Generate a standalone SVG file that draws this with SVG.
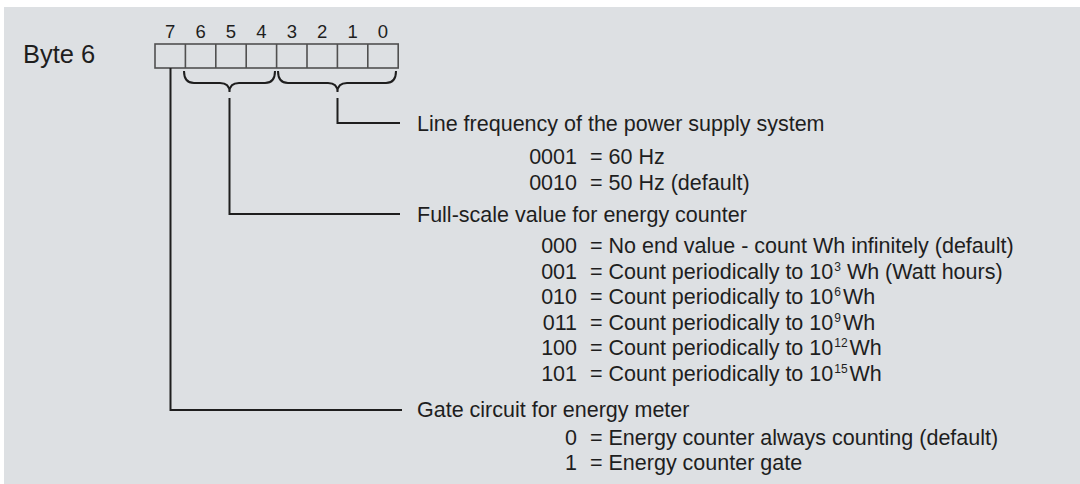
<svg xmlns="http://www.w3.org/2000/svg" width="1080" height="484" viewBox="0 0 1080 484">
  <style>
    text { font-family: "Liberation Sans", Arial, sans-serif; fill: #1e1e1e; }
    .t { font-size: 21.5px; }
    .code { font-size: 21.5px; text-anchor: end; }
    .bitnum { font-size: 18.5px; text-anchor: middle; }
    .cell { fill: none; stroke: #505050; stroke-width: 1.6; }
    .conn { fill: none; stroke: #1e1e1e; stroke-width: 2; }
    .sup { font-size: 12px; }
  </style>
  <rect x="0" y="0" width="1080" height="484" fill="#ffffff"/>
  <rect x="4" y="7" width="1076" height="477" fill="#dde0e3"/>

  <g id="byte-label">
    <text x="23" y="63" style="font-size:25.5px">Byte 6</text>
  </g>

  <g id="bit-register">
    <text class="bitnum" x="170.2" y="38">7</text>
    <text class="bitnum" x="200.6" y="38">6</text>
    <text class="bitnum" x="231" y="38">5</text>
    <text class="bitnum" x="261.4" y="38">4</text>
    <text class="bitnum" x="291.8" y="38">3</text>
    <text class="bitnum" x="322.2" y="38">2</text>
    <text class="bitnum" x="352.6" y="38">1</text>
    <text class="bitnum" x="383" y="38">0</text>
    <rect class="cell" x="155" y="44" width="243.2" height="24"/>
    <path class="cell" d="M185.4,44V68M215.8,44V68M246.2,44V68M276.6,44V68M307,44V68M337.4,44V68M367.8,44V68"/>
  </g>

  <g id="connectors">
    <path class="conn" d="M184,71 Q184,83 194,83 L220,83 Q229.5,83 229.5,92 Q229.5,83 239,83 L265,83 Q275,83 275,71"/>
    <path class="conn" d="M278,71 Q278,83 288,83 L328,83 Q337.5,83 337.5,92 Q337.5,83 347,83 L386,83 Q396,83 396,71"/>
    <path class="conn" d="M337.5,98 V123 H400"/>
    <path class="conn" d="M229.5,98 V214 H400"/>
    <path class="conn" d="M170.5,68 V410 H402"/>
  </g>

  <g id="line-frequency">
    <text class="t" x="417" y="131">Line frequency of the power supply system</text>
    <text class="code" x="577" y="164">0001</text>
    <text class="t" x="590" y="164">= 60 Hz</text>
    <text class="code" x="577" y="190">0010</text>
    <text class="t" x="590" y="190">= 50 Hz (default)</text>
  </g>

  <g id="full-scale">
    <text class="t" x="417" y="222">Full-scale value for energy counter</text>
    <text class="code" x="577" y="253">000</text>
    <text class="t" x="590" y="253">= No end value - count Wh infinitely (default)</text>
    <text class="code" x="577" y="278.5">001</text>
    <text class="t" x="590" y="278.5">= Count periodically to 10<tspan class="sup" dx="1" dy="-8">3</tspan><tspan dy="8"> Wh (Watt hours)</tspan></text>
    <text class="code" x="577" y="304">010</text>
    <text class="t" x="590" y="304">= Count periodically to 10<tspan class="sup" dx="1" dy="-8">6</tspan><tspan dx="2" dy="8">Wh</tspan></text>
    <text class="code" x="577" y="329.5">011</text>
    <text class="t" x="590" y="329.5">= Count periodically to 10<tspan class="sup" dx="1" dy="-8">9</tspan><tspan dx="2" dy="8">Wh</tspan></text>
    <text class="code" x="577" y="355">100</text>
    <text class="t" x="590" y="355">= Count periodically to 10<tspan class="sup" dx="1" dy="-8">12</tspan><tspan dx="2" dy="8">Wh</tspan></text>
    <text class="code" x="577" y="380.5">101</text>
    <text class="t" x="590" y="380.5">= Count periodically to 10<tspan class="sup" dx="1" dy="-8">15</tspan><tspan dx="2" dy="8">Wh</tspan></text>
  </g>

  <g id="gate-circuit">
    <text class="t" x="417" y="417">Gate circuit for energy meter</text>
    <text class="code" x="577" y="445">0</text>
    <text class="t" x="590" y="445">= Energy counter always counting (default)</text>
    <text class="code" x="577" y="470">1</text>
    <text class="t" x="590" y="470">= Energy counter gate</text>
  </g>
</svg>
